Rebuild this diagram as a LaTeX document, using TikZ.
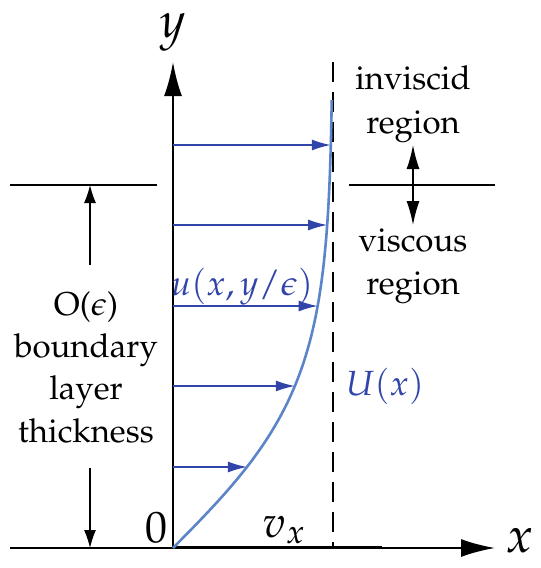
\documentclass[tikz,border=0pt]{standalone}
\usepackage[T1]{fontenc}
\usepackage{mathpazo}
\renewcommand{\rmdefault}{ppl}
\usetikzlibrary{arrows.meta}
\definecolor{arrowblue}{RGB}{48,68,170}
\definecolor{curveblue}{RGB}{92,132,200}
\begin{document}
\begin{tikzpicture}[x=1pt,y=-1pt,
  axis/.style={line width=2.2pt,-{Latex[length=34pt,width=18pt]}},
  thin/.style={line width=1.2pt},
  dimarrow/.style={line width=1.2pt,-{Latex[length=18pt,width=12pt]}},
  dblarrow/.style={line width=1.4pt,{Latex[length=24pt,width=13pt]}-{Latex[length=24pt,width=13pt]}},
  barrow/.style={arrowblue,line width=1.5pt,-{Latex[length=19pt,width=11pt]}},
  curve/.style={curveblue,line width=2.6pt},
  txt/.style={font=\fontsize{33}{38}\selectfont,anchor=base,inner sep=0pt},
  mlab/.style={font=\fontsize{35}{42}\selectfont,anchor=base,inner sep=0pt},
  blab/.style={font=\fontsize{44}{50}\selectfont,anchor=base,inner sep=0pt},
  alab/.style={font=\fontsize{50}{58}\selectfont,anchor=base,inner sep=0pt}]
\useasboundingbox (0,0) rectangle (541,568);
% axes
\coordinate (O) at (173,548);
\coordinate (ytip) at (173,62);
\coordinate (xl) at (10,548);
\coordinate (xtip) at (495,548);
\coordinate (vend) at (382,546);
\coordinate (vstart) at (173,546);
\draw[axis] (O) -- (ytip);
\draw[axis] (xl) -- (xtip);
\draw[line width=0.8pt] (vstart) -- (vend);
% dashed line
\coordinate (dtop) at (333,62);
\coordinate (dbot) at (333,548);
\draw[line width=1.2pt,dash pattern=on 20pt off 10pt] (dtop) -- (dbot);
% horizontal separators
\coordinate (hl1) at (10,185); \coordinate (hl2) at (157,185);
\coordinate (hr1) at (349,185); \coordinate (hr2) at (495,185);
\draw[thin] (hl1) -- (hl2);
\draw[thin] (hr1) -- (hr2);
% velocity profile
\draw[curve] plot[domain=0:448,samples=90,smooth] ({173+160*tanh(\x/162)},{548-\x});
\foreach \i/\y in {1/145,2/225,3/306,4/386,5/467}{
  \coordinate (a\i) at (173,\y);
  \coordinate (b\i) at ({173+160*tanh((548-\y)/162)},\y);
  \draw[barrow] (a\i) -- (b\i);
}
% left dimension arrows
\coordinate (d1s) at (90,265); \coordinate (d1e) at (90,185);
\coordinate (d2s) at (90,468); \coordinate (d2e) at (90,548);
\draw[dimarrow] (d1s) -- (d1e);
\draw[dimarrow] (d2s) -- (d2e);
% right double arrow
\coordinate (r1) at (413,145); \coordinate (r2) at (413,225);
\draw[dblarrow] (r1) -- (r2);
% texts
\node[txt] (t1) at (86,315) {O($\epsilon$)};
\node[txt] (t2) at (86,357) {boundary};
\node[txt] (t3) at (86,399) {layer};
\node[txt] (t4) at (86,442) {thickness};
\node[txt] (t5) at (413,89) {inviscid};
\node[txt] (t6) at (413,133) {region};
\node[txt] (t7) at (413,251) {viscous};
\node[txt] (t8) at (413,294) {region};
\node[mlab,text=arrowblue] (ul) at (242,295) {$u(x,y/\epsilon)$};
\node[mlab,text=arrowblue] (Ul) at (385,395) {$U(x)$};
\node[blab] (zero) at (156,542) {0};
\node[blab] (vx) at (284,537) {$v_x$};
\node[alab] (ylab) at (173,37) {$y$};
\node[alab] (xlab) at (520,552) {$x$};
\end{tikzpicture}
\end{document}
